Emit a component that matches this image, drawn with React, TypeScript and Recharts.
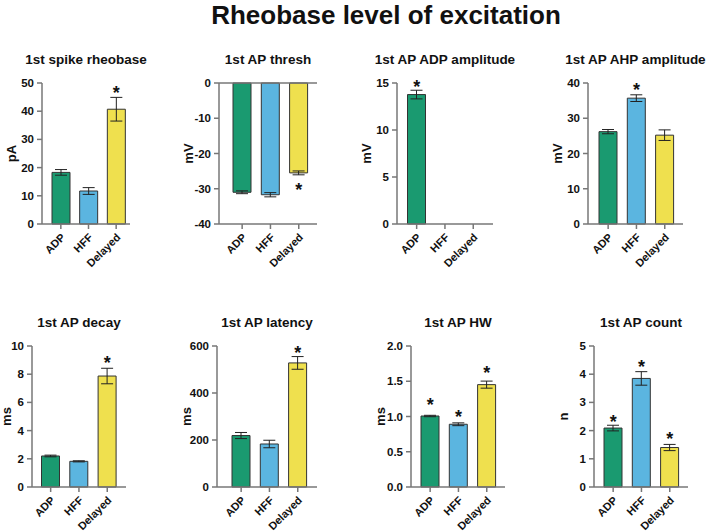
import React from 'react';
import { ComposedChart, Bar, Scatter, XAxis, YAxis, Cell, ErrorBar, ReferenceLine } from 'recharts';

const GROUPS = ['ADP', 'HFF', 'Delayed'];
const COLORS = ['#1a9a70', '#5bb5e0', '#efe04e'];

// mean, sem, star position (null = no star)
const rheobaseMean = [18.3, 11.7, 40.7];
const rheobaseErr = [1.0, 1.2, 4.2];
const rheobaseStar = [null, null, 48];
const rheobaseTicks = [0, 10, 20, 30, 40, 50];

const threshMean = [-31.0, -31.7, -25.5];
const threshErr = [0.4, 0.6, 0.55];
const threshStar = [null, null, -29.2];
const threshTicks = [-40, -30, -20, -10, 0];

const adpMean = [13.77, 0, 0];
const adpErr = [0.46, 0, 0];
const adpStar = [15, null, null];
const adpTicks = [0, 5, 10, 15];

const ahpMean = [26.2, 35.7, 25.2];
const ahpErr = [0.6, 0.95, 1.5];
const ahpStar = [null, 39.1, null];
const ahpTicks = [0, 10, 20, 30, 40];

const decayMean = [2.2, 1.82, 7.87];
const decayErr = [0.06, 0.04, 0.55];
const decayStar = [null, null, 9.06];
const decayTicks = [0, 2, 4, 6, 8, 10];

const latencyMean = [219, 183, 528];
const latencyErr = [13, 16, 27];
const latencyStar = [null, null, 589];
const latencyTicks = [0, 200, 400, 600];

const hwMean = [1.007, 0.89, 1.452];
const hwErr = [0.01, 0.02, 0.05];
const hwStar = [1.22, 1.05, 1.68];
const hwTicks = [0, 0.5, 1.0, 1.5, 2.0];

const countMean = [2.09, 3.85, 1.4];
const countErr = [0.1, 0.24, 0.11];
const countStar = [2.45, 4.38, 1.83];
const countTicks = [0, 1, 2, 3, 4, 5];

const build = (mean: number[], err: number[], star: (number | null)[]) =>
  GROUPS.map((g, i) => ({ group: g, mean: mean[i], err: err[i], star: star[i] }));

const panels = [
  { title: '1st spike rheobase', unit: 'pA', data: build(rheobaseMean, rheobaseErr, rheobaseStar), ticks: rheobaseTicks, ax: 42, axEnd: 130, padL: 5, row: 0 },
  { title: '1st AP thresh', unit: 'mV', data: build(threshMean, threshErr, threshStar), ticks: threshTicks, ax: 219, axEnd: 317, padL: 9, row: 0, zeroLine: true },
  { title: '1st AP ADP amplitude', unit: 'mV', data: build(adpMean, adpErr, adpStar), ticks: adpTicks, ax: 397, axEnd: 493, padL: 5.5, row: 0 },
  { title: '1st AP AHP amplitude', unit: 'mV', data: build(ahpMean, ahpErr, ahpStar), ticks: ahpTicks, ax: 588, axEnd: 683, padL: 6, row: 0 },
  { title: '1st AP decay', unit: 'ms', data: build(decayMean, decayErr, decayStar), ticks: decayTicks, ax: 32, axEnd: 126, padL: 4.5, row: 1, labelOffset: 19 },
  { title: '1st AP latency', unit: 'ms', data: build(latencyMean, latencyErr, latencyStar), ticks: latencyTicks, ax: 217, axEnd: 317, padL: 10, row: 1 },
  { title: '1st AP HW', unit: 'ms', data: build(hwMean, hwErr, hwStar), ticks: hwTicks, ax: 411, axEnd: 505, padL: 5, row: 1, fixed: true },
  { title: '1st AP count', unit: 'n', data: build(countMean, countErr, countStar), ticks: countTicks, ax: 594, axEnd: 688, padL: 5, row: 1 },
];

const ROWS = [
  { top: 83, bottom: 224, titleY: 60 },
  { top: 346, bottom: 487, titleY: 323 },
];

const FONT = '"Liberation Sans", Arial, sans-serif';
const AXIS = '#777';
const YW = 45;
const MT = 12;
const MR = 2;
const XH = 60;
const CW = 28.3;

const XTick = (props: any) => {
  const { x, y, payload } = props;
  return (
    <g transform={`translate(${x + 5},${y + 7})`}>
      <text x={0} y={0} textAnchor="end" transform="rotate(-45)" fontSize={11} fontWeight="bold" fill="#111" fontFamily={FONT}>
        {payload.value}
      </text>
    </g>
  );
};

const StarShape = (props: any) => {
  const { cx, cy, payload } = props;
  if (payload == null || payload.star == null || cy == null || isNaN(cy)) return <g />;
  return (
    <text x={cx} y={cy + 10} textAnchor="middle" fontSize={18} fontWeight="bold" fill="#111" fontFamily={FONT}>
      *
    </text>
  );
};

function Panel({ p }: { p: any }) {
  const row = ROWS[p.row];
  const plotW = p.axEnd - p.ax;
  const padR = Math.max(0, plotW - p.padL - CW * 3);
  const width = YW + plotW + MR;
  const height = MT + (row.bottom - row.top) + XH;
  const left = p.ax - YW;
  const top = row.top - MT;
  const ticks = p.ticks;
  return (
    <>
      <div
        style={{
          position: 'absolute',
          left: p.ax - 60,
          width: plotW + 120,
          top: row.titleY - 9,
          height: 18,
          lineHeight: '18px',
          textAlign: 'center',
          fontFamily: FONT,
          fontWeight: 'bold',
          fontSize: 13.5,
          color: '#111',
        }}
      >
        {p.title}
      </div>
      <div style={{ position: 'absolute', left, top }}>
        <ComposedChart width={width} height={height} data={p.data} margin={{ top: MT, right: MR, bottom: 0, left: 0 }}>
          <XAxis
            dataKey="group"
            type="category"
            height={XH}
            padding={{ left: p.padL, right: padR }}
            tick={<XTick />}
            tickSize={5}
            tickMargin={2}
            interval={0}
            axisLine={{ stroke: AXIS, strokeWidth: 1.5 }}
            tickLine={{ stroke: AXIS, strokeWidth: 1.5 }}
          />
          <YAxis
            type="number"
            domain={[ticks[0], ticks[ticks.length - 1]]}
            ticks={ticks}
            width={YW}
            tickSize={5}
            tickMargin={3}
            tickFormatter={(v: number) => (p.fixed ? v.toFixed(1) : String(v))}
            tick={{ fontSize: 11.5, fontWeight: 'bold', fill: '#111', fontFamily: FONT }}
            axisLine={{ stroke: AXIS, strokeWidth: 1.5 }}
            tickLine={{ stroke: AXIS, strokeWidth: 1.5 }}
            label={{
              value: p.unit,
              angle: -90,
              position: 'insideLeft',
              offset: p.labelOffset ?? 14,
              style: { fontSize: 13, fontWeight: 'bold', fill: '#111', fontFamily: FONT, textAnchor: 'middle' },
            }}
          />
          {p.zeroLine && <ReferenceLine y={0} stroke={AXIS} strokeWidth={1.5} />}
          <Bar dataKey="mean" barSize={18} stroke="#333" strokeWidth={1} isAnimationActive={false}>
            {p.data.map((d: any, i: number) => (
              <Cell key={d.group} fill={COLORS[i]} />
            ))}
            <ErrorBar dataKey="err" width={6} stroke="#222" strokeWidth={1} direction="y" />
          </Bar>
          <Scatter dataKey="star" shape={StarShape} isAnimationActive={false} />
        </ComposedChart>
      </div>
    </>
  );
}

export default function App() {
  return (
    <div style={{ position: 'absolute', left: 0, top: 0, width: 708, height: 531, background: '#fff', fontFamily: FONT }}>
      <div
        style={{
          position: 'absolute',
          left: 186,
          width: 400,
          top: 0,
          height: 30,
          lineHeight: '30px',
          textAlign: 'center',
          fontWeight: 'bold',
          fontSize: 26,
          color: '#111',
        }}
      >
        Rheobase level of excitation
      </div>
      {panels.map((p) => (
        <Panel key={p.title} p={p} />
      ))}
    </div>
  );
}
